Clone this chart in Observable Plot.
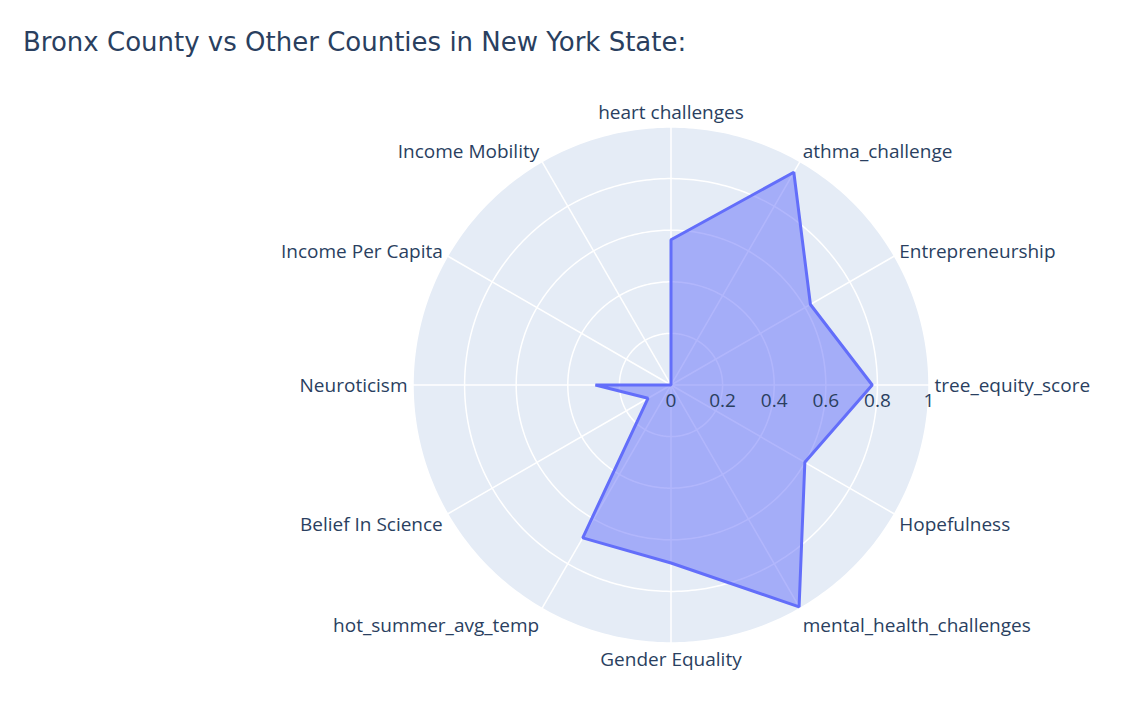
<!DOCTYPE html>
<html>
<head>
<meta charset="utf-8">
<script src="https://cdn.jsdelivr.net/npm/d3@7"></script>
<script src="https://cdn.jsdelivr.net/npm/@observablehq/plot@0.6"></script>
<style>
  html, body { margin: 0; padding: 0; background: #ffffff; }
  #title {
    height: 70px; box-sizing: border-box; padding-left: 23px; padding-top: 29px;
    font-family: "DejaVu Sans", "Open Sans", sans-serif;
    font-size: 26px; line-height: 26px; color: #2a3f5f; white-space: nowrap;
  }
</style>
</head>
<body>
<div id="title">Bronx County vs Other Counties in New York State:</div>
<div id="chart"></div>
<script>
// ---- data ----
const categories = [
  "heart challenges", "athma_challenge", "Entrepreneurship", "tree_equity_score",
  "Hopefulness", "mental_health_challenges", "Gender Equality", "hot_summer_avg_temp",
  "Belief In Science", "Neuroticism", "Income Per Capita", "Income Mobility"
];
const values = [0.563, 0.952, 0.624, 0.780, 0.599, 0.993, 0.69, 0.684, 0.103, 0.293, 0, 0];
const radialTicks = [0, 0.2, 0.4, 0.6, 0.8, 1];
const radialMax = 1;

// ---- build ----
const data = categories.map((c, i) => ({category: c, value: values[i]}));
// clockwise from the top: longitude 180 = up, 90 = right
const lon = d3.scalePoint().domain(categories).range([180, 180 - 330]);
const circle = (r) => d3.geoCircle().center([0, 90]).radius(r).precision(1)();

const FS = 19;
const textColor = "#2a3f5f";

// angular category labels (plotly-like placement)
const labelMarks = categories.map((c) => {
  const ang = (lon(c) - 90) * Math.PI / 180; // 0 = right, positive = counterclockwise on screen
  const cs = Math.cos(ang), sn = Math.sin(ang);
  const anchor = Math.abs(cs) < 1e-6 ? "middle" : (cs > 0 ? "start" : "end");
  const base = -sn * (4 + FS * (sn > 0 ? 0.2 : 1)) + Math.abs(cs) * FS * 0.35; // baseline offset
  return Plot.text([c], {
    x: () => lon(c), y: 90 - radialMax, text: (d) => d,
    textAnchor: anchor, lineAnchor: "middle",
    dx: cs * 5.5, dy: base - 0.32 * FS,
    fill: textColor, fontSize: FS
  });
});

const W = 1122, H = 654;
const cx = 670.5, cy = 314.5, R = 258;

const chart = Plot.plot({
  width: W,
  height: H,
  marginLeft: cx - R,
  marginRight: W - cx - R,
  marginTop: cy - R,
  marginBottom: H - cy - R,
  projection: {
    type: "azimuthal-equidistant",
    rotate: [0, -90],
    domain: circle(radialMax),
    clip: false
  },
  style: {fontFamily: "'Open Sans', sans-serif", fontSize: FS + "px", color: textColor, background: "#ffffff", overflow: "visible"},
  marks: [
    // polar background
    Plot.geo([radialMax], {geometry: circle, fill: "#E5ECF6", stroke: "none"}),
    // circular grid
    Plot.geo(radialTicks.filter((t) => t > 0), {geometry: circle, fill: "none", stroke: "#ffffff", strokeWidth: 1.5}),
    // spokes
    Plot.link(categories, {x1: (c) => lon(c), y1: 90 - radialMax, x2: 0, y2: 90, stroke: "#ffffff", strokeWidth: 1.5}),
    // filled polygon
    Plot.area(data, {
      x1: (d) => lon(d.category), y1: (d) => 90 - d.value, x2: 0, y2: 90,
      fill: "#636efa", fillOpacity: 0.5, curve: "linear-closed"
    }),
    Plot.line(data, {
      x: (d) => lon(d.category), y: (d) => 90 - d.value,
      stroke: "#636efa", strokeWidth: 3, curve: "linear-closed", strokeLinejoin: "miter"
    }),
    // radial tick labels
    Plot.text(radialTicks, {
      x: () => 90, y: (d) => 90 - d, text: (d) => d3.format("~g")(d),
      dy: 22 - 0.32 * FS, fill: textColor, fontSize: FS, textAnchor: "middle"
    }),
    ...labelMarks
  ]
});
document.getElementById("chart").appendChild(chart);
</script>
</body>
</html>
